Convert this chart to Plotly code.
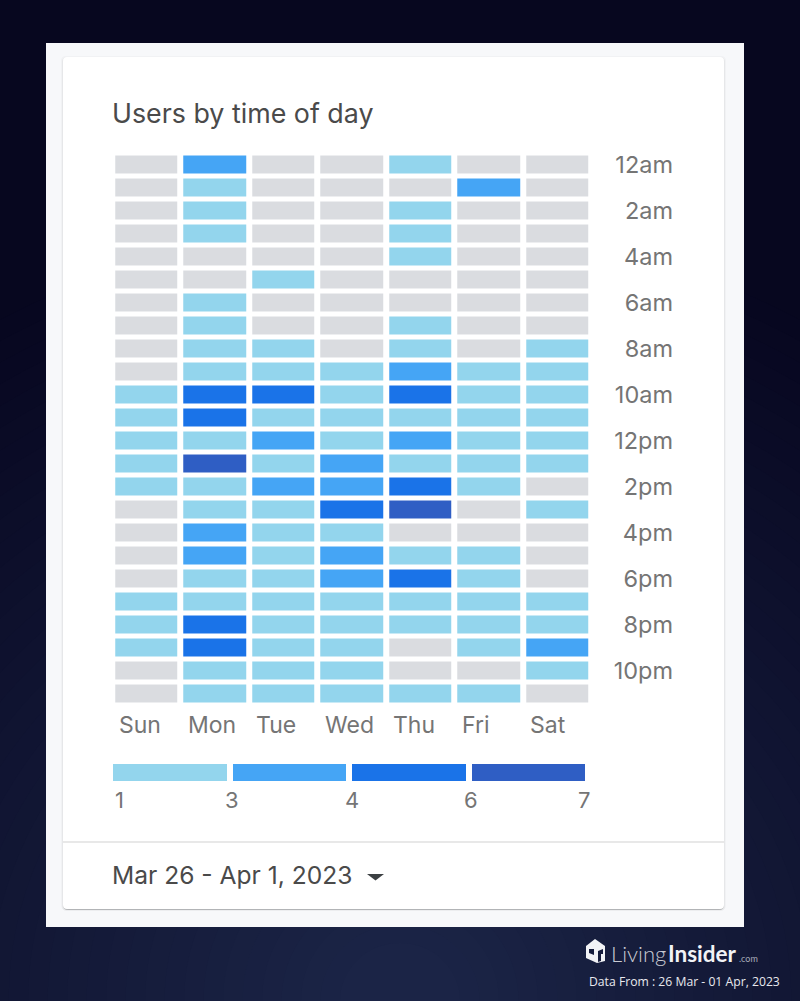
import plotly.graph_objects as go
import numpy as np

W = 800
H = 1001

days = ["Sun", "Mon", "Tue", "Wed", "Thu", "Fri", "Sat"]
hours = ["12am", "1am", "2am", "3am", "4am", "5am", "6am", "7am", "8am", "9am", "10am", "11am",
         "12pm", "1pm", "2pm", "3pm", "4pm", "5pm", "6pm", "7pm", "8pm", "9pm", "10pm", "11pm"]
hour_ticks = hours[::2]

# one row per hour, 0 = no users, 1-4 = legend buckets
users = [
    [0, 2, 0, 0, 1, 0, 0],
    [0, 1, 0, 0, 0, 2, 0],
    [0, 1, 0, 0, 1, 0, 0],
    [0, 1, 0, 0, 1, 0, 0],
    [0, 0, 0, 0, 1, 0, 0],
    [0, 0, 1, 0, 0, 0, 0],
    [0, 1, 0, 0, 0, 0, 0],
    [0, 1, 0, 0, 1, 0, 0],
    [0, 1, 1, 0, 1, 0, 1],
    [0, 1, 1, 1, 2, 1, 1],
    [1, 3, 3, 1, 3, 1, 1],
    [1, 3, 1, 1, 1, 1, 1],
    [1, 1, 2, 1, 2, 1, 1],
    [1, 4, 1, 2, 1, 1, 1],
    [1, 1, 2, 2, 3, 1, 0],
    [0, 1, 1, 3, 4, 0, 1],
    [0, 2, 1, 1, 0, 0, 0],
    [0, 2, 1, 2, 1, 1, 0],
    [0, 1, 1, 2, 3, 1, 0],
    [1, 1, 1, 1, 1, 1, 1],
    [1, 3, 1, 1, 1, 1, 1],
    [1, 3, 1, 1, 0, 1, 2],
    [0, 1, 1, 1, 0, 0, 1],
    [0, 1, 1, 1, 1, 1, 0],
]

legend_buckets = [1, 2, 3, 4]
legend_labels = ["1", "3", "4", "6", "7"]
legend_label_x = [119, 232, 352, 471, 584]

colors = ["#dadce0", "#93d5ed", "#45a5f5", "#1a73e8", "#2f5ec4"]
TEXT = "#757575"
DARK = "#4a4a4a"
FONT = "Inter"


def fx(x):
    return x / W


def fy(y):
    return 1 - y / H


# stepped colorscale so each bucket gets a flat colour
scale = []
for i, c in enumerate(colors):
    scale.append([i / 5, c])
    scale.append([(i + 1) / 5, c])


def rounded(x0, y0, x1, y1, r):
    return (f"M {fx(x0 + r)} {fy(y0)} L {fx(x1 - r)} {fy(y0)} Q {fx(x1)} {fy(y0)} {fx(x1)} {fy(y0 + r)} "
            f"L {fx(x1)} {fy(y1 - r)} Q {fx(x1)} {fy(y1)} {fx(x1 - r)} {fy(y1)} "
            f"L {fx(x0 + r)} {fy(y1)} Q {fx(x0)} {fy(y1)} {fx(x0)} {fy(y1 - r)} "
            f"L {fx(x0)} {fy(y0 + r)} Q {fx(x0)} {fy(y0)} {fx(x0 + r)} {fy(y0)} Z")


def poly(points):
    return "M " + " L ".join(f"{fx(x)} {fy(y)}" for x, y in points) + " Z"


shapes = []

# dark page background, lighter towards the bottom middle
inner = np.array([27, 36, 70])
outer = np.array([7, 7, 32])
steps = 40
for i in range(steps):
    t = i / (steps - 1)
    col = outer + (inner - outer) * t
    r = 760 * (1 - t) + 60
    shapes.append(dict(type="circle", xref="paper", yref="paper", layer="below",
                       x0=fx(400 - r), x1=fx(400 + r), y0=fy(1000 + r * 0.95), y1=fy(1000 - r * 0.95),
                       fillcolor=f"rgb({col[0]:.0f},{col[1]:.0f},{col[2]:.0f})", line_width=0))

# outer panel
shapes.append(dict(type="rect", xref="paper", yref="paper", layer="below",
                   x0=fx(46), x1=fx(744), y0=fy(43), y1=fy(927), fillcolor="#f7f8fa", line_width=0))

# card shadow then card, heavier along the bottom edge
for grow, drop, alpha in [(2, 1, 0.03), (1, 2, 0.06), (0, 1, 0.30)]:
    shapes.append(dict(type="path", xref="paper", yref="paper", layer="below",
                       path=rounded(63 - grow, 57 - grow + 1, 724 + grow, 909 + drop, 5),
                       fillcolor=f"rgba(60,64,67,{alpha})", line_width=0))
shapes.append(dict(type="path", xref="paper", yref="paper", layer="below",
                   path=rounded(63, 57, 724, 909, 4), fillcolor="white", line_width=0))

# divider above the date range
shapes.append(dict(type="line", xref="paper", yref="paper", layer="below",
                   x0=fx(63), x1=fx(724), y0=fy(842), y1=fy(842), line=dict(color="#e0e0e0", width=1.5)))

# dropdown arrow
shapes.append(dict(type="path", xref="paper", yref="paper", layer="above",
                   path=poly([(367, 874), (384, 874), (375.5, 880.5)]), fillcolor="#3c4043", line_width=0))

# logo house
shapes.append(dict(type="path", xref="paper", yref="paper", layer="above",
                   path=poly([(586, 946), (595, 939), (605, 946), (605, 961), (597, 963), (586, 958)]),
                   fillcolor="#f2f3f6", line_width=0))
shapes.append(dict(type="path", xref="paper", yref="paper", layer="above",
                   path=poly([(589, 949), (594, 949), (594, 955), (589, 953)]), fillcolor="#161c3c", line_width=0))
shapes.append(dict(type="path", xref="paper", yref="paper", layer="above",
                   path=poly([(598, 951), (603, 949), (603, 954), (601, 954), (601, 961), (598, 962)]),
                   fillcolor="#161c3c", line_width=0))

fig = go.Figure()

fig.add_trace(go.Heatmap(
    x=days,
    y=hours,
    z=users,
    zmin=0,
    zmax=5,
    colorscale=scale,
    showscale=False,
    xgap=6,
    ygap=5,
    xaxis="x",
    yaxis="y",
))

fig.add_trace(go.Heatmap(
    x=legend_labels[:4],
    y=["users"],
    z=[[b + 0.5 for b in legend_buckets]],
    zmin=0,
    zmax=5,
    colorscale=scale,
    showscale=False,
    xgap=6,
    ygap=0,
    xaxis="x2",
    yaxis="y2",
))

annotations = []


def note(text, x, y, size, color=TEXT, anchor="left", family=FONT, weight=None):
    font = dict(size=size, color=color, family=family)
    if weight:
        font["weight"] = weight
    annotations.append(dict(text=text, x=fx(x), y=fy(y), xref="paper", yref="paper", showarrow=False,
                            xanchor=anchor, yanchor="middle", align="left", font=font))


note("Users by time of day", 110, 113, 26.8, DARK)
note("Mar 26 - Apr 1, 2023", 110, 875, 24.6, DARK)

for d in days:
    annotations.append(dict(text=d, x=d, y=fy(725), xref="x", yref="paper", showarrow=False,
                            xanchor="left", yanchor="middle", xshift=-29,
                            font=dict(size=23, color=TEXT, family=FONT)))

for lab, x in zip(legend_labels, legend_label_x):
    note(lab, x, 800, 22, TEXT, anchor="center")

note("Living", 609, 953, 22, "#c9cbd3", family="Lato", weight=300)
note("<b>Insider</b>", 666, 953, 22.5, "#f2f3f6", family="Lato")
note(".com", 737, 958, 9, "#a9acb8", family="Lato")
note("Data From : 26 Mar - 01 Apr, 2023", 587, 981, 12.2, "#e8e9ee", family="Open Sans")

fig.update_layout(
    width=W,
    height=H,
    margin=dict(l=0, r=0, t=0, b=0, autoexpand=False),
    paper_bgcolor="#07071f",
    plot_bgcolor="rgba(0,0,0,0)",
    shapes=shapes,
    annotations=annotations,
    xaxis=dict(domain=[fx(112.25), fx(591.25)], anchor="y", showticklabels=False, showgrid=False,
               zeroline=False, ticks="", automargin=False),
    yaxis=dict(domain=[fy(705), fy(153.5)], anchor="free", position=fx(673), side="left",
               autorange="reversed", tickmode="array", tickvals=hour_ticks, ticktext=hour_ticks,
               showgrid=False, zeroline=False, ticks="", automargin=False,
               tickfont=dict(size=23.5, color=TEXT, family=FONT)),
    xaxis2=dict(domain=[fx(110), fx(588)], anchor="y2", showticklabels=False, showgrid=False,
                zeroline=False, ticks="", automargin=False),
    yaxis2=dict(domain=[fy(781), fy(764)], anchor="x2", showticklabels=False, showgrid=False,
                zeroline=False, ticks="", automargin=False),
)

# the page default of 8px body margin would shift everything
fig.write_html("out.html", config={"displayModeBar": False},
               post_script="document.body.style.margin = '0';")
